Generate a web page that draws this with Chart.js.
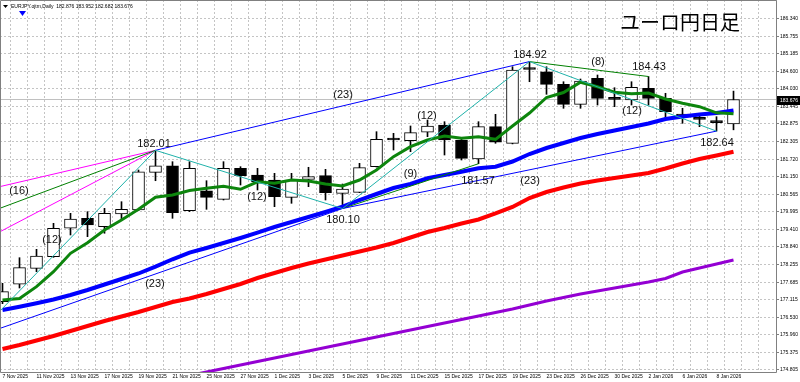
<!DOCTYPE html>
<html>
<head>
<meta charset="utf-8">
<title>EURJPY Daily</title>
<script src="https://cdn.jsdelivr.net/npm/chart.js@4.4.1/dist/chart.umd.min.js"></script>
<style>
  html, body { margin: 0; padding: 0; background: #fff; }
  #wrap { width: 800px; height: 382px; }
</style>
</head>
<body>
<div id="wrap"><canvas id="chart" width="800" height="382"></canvas></div>
<script>
// EURJPY daily, 7 Nov 2025 - 9 Jan 2026
const dates = ['7 Nov 2025','10 Nov 2025','11 Nov 2025','12 Nov 2025','13 Nov 2025','14 Nov 2025',
  '17 Nov 2025','18 Nov 2025','19 Nov 2025','20 Nov 2025','21 Nov 2025','24 Nov 2025','25 Nov 2025',
  '26 Nov 2025','27 Nov 2025','28 Nov 2025','1 Dec 2025','2 Dec 2025','3 Dec 2025','4 Dec 2025',
  '5 Dec 2025','8 Dec 2025','9 Dec 2025','10 Dec 2025','11 Dec 2025','12 Dec 2025','15 Dec 2025',
  '16 Dec 2025','17 Dec 2025','18 Dec 2025','19 Dec 2025','22 Dec 2025','23 Dec 2025','24 Dec 2025',
  '26 Dec 2025','29 Dec 2025','30 Dec 2025','31 Dec 2025','2 Jan 2026','5 Jan 2026','6 Jan 2026',
  '7 Jan 2026','8 Jan 2026','9 Jan 2026'];

const opens = [177.045,177.616,178.140,178.521,179.453,179.780,179.505,179.921,180.052,181.289,
  181.505,180.029,180.685,180.403,181.420,181.201,181.036,180.469,181.059,181.178,
  180.600,180.633,181.473,182.360,182.325,182.601,182.840,182.348,181.725,182.785,
  182.240,184.667,184.588,184.175,183.519,184.372,183.690,183.660,184.044,183.716,
  183.191,183.080,182.971,182.876];
const highs = [177.648,178.488,178.763,179.616,179.944,179.997,180.108,180.325,181.364,182.010,
  181.637,181.637,181.013,181.637,181.473,181.420,181.256,181.256,181.453,181.387,
  180.905,181.584,182.621,182.568,182.808,183.004,182.949,182.404,182.949,183.191,
  184.752,184.920,184.752,184.260,184.349,184.480,184.064,184.260,184.430,183.880,
  183.388,183.224,183.113,183.952];
const lows = [176.980,177.494,178.029,178.500,179.233,179.177,179.289,179.724,180.029,181.013,
  179.780,180.000,180.075,180.380,180.872,180.709,180.161,180.272,180.817,180.380,
  180.100,180.620,181.460,182.020,181.965,182.457,181.856,181.692,181.570,182.240,
  182.220,184.260,183.847,183.388,183.388,183.496,183.441,183.496,183.496,183.060,
  182.896,182.785,182.640,182.682];
const closes = [177.373,178.160,178.544,179.453,179.757,179.561,179.944,180.075,181.308,181.505,
  179.964,181.420,180.469,181.420,181.178,180.980,180.489,181.036,181.145,180.620,
  180.741,181.440,182.371,182.348,182.588,182.808,182.348,181.748,182.785,182.273,
  184.644,184.660,184.175,183.519,184.283,183.716,183.683,184.077,183.716,183.277,
  183.135,183.027,182.916,183.676];

// moving averages
const maGreen = [177.101,177.150,177.537,178.029,178.632,178.980,179.397,179.724,180.075,180.469,
  180.544,180.692,180.764,180.830,180.731,180.975,180.930,181.036,181.004,180.905,
  180.840,181.036,181.364,181.801,182.129,182.348,182.480,182.404,182.457,182.371,
  182.808,183.234,183.742,183.906,184.244,184.096,183.916,183.864,183.890,183.693,
  183.552,183.441,183.240,183.211];
const maBlue = [176.773,176.881,176.993,177.117,177.265,177.429,177.609,177.790,177.970,178.193,
  178.436,178.652,178.806,178.970,179.134,179.308,179.495,179.659,179.823,179.987,
  180.161,180.380,180.577,180.774,180.905,181.092,181.200,181.308,181.420,181.473,
  181.643,181.889,182.086,182.250,182.414,182.545,182.660,182.775,182.889,183.037,
  183.119,183.185,183.234,183.316];
const maRed = [175.494,175.625,175.772,175.920,176.084,176.248,176.412,176.560,176.707,176.871,
  177.035,177.150,177.298,177.462,177.626,177.822,177.986,178.150,178.298,178.429,
  178.560,178.691,178.823,178.970,179.151,179.331,179.462,179.610,179.741,179.938,
  180.151,180.446,180.643,180.790,180.922,181.020,181.102,181.184,181.266,181.414,
  181.578,181.725,181.840,181.965];
const maPurple = [null,null,null,null,null,null,null,null,null,null,
  174.510,174.625,174.739,174.854,174.969,175.083,175.198,175.313,175.428,175.543,
  175.657,175.772,175.887,176.002,176.117,176.231,176.346,176.461,176.576,176.691,
  176.806,176.937,177.068,177.183,177.298,177.396,177.494,177.593,177.691,177.806,
  178.019,178.150,178.281,178.413];

// price scale labels as MT4 placed them
const priceTicks = [186.340,185.755,185.185,184.600,184.030,183.445,182.875,182.305,181.720,181.150,
  180.565,179.995,179.410,178.840,178.255,177.685,177.115,176.530,175.960,175.375,174.805];

// pivot bars for the trend lines
const hiA = 9, loA = 20, hiB = 31, loB = 42, loC = 28, hiC = 38;
// where lines enter from the left edge
const edgeTeal = 176.74, edgeBlue = 176.17, edgeGreen = 180.11, edgePink1 = 180.82, edgePink2 = 179.34;

// text notes: [text, bar, price]
const notes = [
  [highs[hiA].toFixed(2), 8.91, 182.234],
  ['(16)', 0.97, 180.676],
  ['(12)', 2.91, 179.069],
  ['(23)', 8.97, 177.642],
  ['(23)', 20.03, 183.824],
  ['(12)', 14.97, 180.479],
  [lows[loA].toFixed(2), 20.03, 179.741],
  ['(9)', 24.0, 181.233],
  ['(12)', 24.97, 183.152],
  [lows[loC].toFixed(2), 27.97, 181.004],
  ['(23)', 31.03, 181.020],
  [highs[hiB].toFixed(2), 31.03, 185.153],
  ['(8)', 35.03, 184.923],
  [highs[hiC].toFixed(2), 38.03, 184.743],
  ['(12)', 37.03, 183.316],
  [lows[loB].toFixed(2), 42.03, 182.266]
];

const xMin = -0.147, xMax = 45.5;
const yMin = 174.739, yMax = 186.940;
const last = dates.length - 1;

const toXY = arr => arr.map((v, i) => ({x: i, y: v}));

function seg(color, p1, p2) {
  return {
    type: 'line', data: [{x: p1[0], y: p1[1]}, {x: p2[0], y: p2[1]}],
    borderColor: color, borderWidth: 1, pointRadius: 0, tension: 0, order: 0
  };
}

function maLine(arr, color, w) {
  return { type: 'line', data: toXY(arr), borderColor: color, borderWidth: w,
    pointRadius: 0, tension: 0, order: 1 };
}

const datasets = [
  // trend lines
  seg('#20b2aa', [xMin, edgeTeal], [hiA, highs[hiA]]),
  seg('#20b2aa', [hiA, highs[hiA]], [loA, lows[loA]]),
  seg('#20b2aa', [loA, lows[loA]], [hiB, highs[hiB]]),
  seg('#20b2aa', [hiB, highs[hiB]], [loB, lows[loB]]),
  seg('#0000ff', [hiA, highs[hiA]], [hiB, highs[hiB]]),
  seg('#0000ff', [xMin, edgeBlue], [loA, lows[loA]]),
  seg('#0000ff', [loA, lows[loA]], [loB, lows[loB]]),
  seg('#008000', [xMin, edgeGreen], [hiA, highs[hiA]]),
  seg('#008000', [loA, lows[loA]], [loC, lows[loC]]),
  seg('#008000', [hiB, highs[hiB]], [hiC, highs[hiC]]),
  seg('#ff00ff', [xMin, edgePink1], [hiA, highs[hiA]]),
  seg('#ff00ff', [xMin, edgePink2], [hiA, highs[hiA]]),
  // moving averages
  maLine(maGreen, '#0d850d', 3),
  maLine(maBlue, '#0000ff', 4),
  maLine(maRed, '#ff0000', 4),
  maLine(maPurple, '#9400d3', 3),
  // candles: bodies then wicks
  {
    type: 'bar', data: opens.map((o, i) => ({x: i, y: [o, closes[i]]})),
    backgroundColor: opens.map((o, i) => closes[i] >= o ? '#ffffff' : '#000000'),
    borderColor: '#000', borderWidth: 1, borderSkipped: false,
    barThickness: 12, grouped: false, minBarLength: 2, order: 2
  },
  {
    type: 'bar', data: lows.map((l, i) => ({x: i, y: [l, highs[i]]})),
    backgroundColor: '#000', borderWidth: 0, barThickness: 1, grouped: false, order: 3
  },
  // bid line
  {
    type: 'line', data: [{x: xMin, y: closes[last]}, {x: xMax, y: closes[last]}],
    borderColor: '#c0c0c0', borderWidth: 1, pointRadius: 0, order: 10
  }
];

const decor = {
  id: 'decor',
  afterDatasetsDraw(chart) {
    const {ctx, scales: {x, y}} = chart;
    ctx.save();
    ctx.font = '11px "Liberation Sans", Arial, sans-serif';
    ctx.fillStyle = '#111';
    ctx.textAlign = 'center';
    ctx.textBaseline = 'middle';
    notes.forEach(n => ctx.fillText(n[0], x.getPixelForValue(n[1]), y.getPixelForValue(n[2])));
    ctx.restore();
  },
  afterDraw(chart) {
    const {ctx, chartArea: a, scales: {y}} = chart;
    ctx.save();
    // frame
    ctx.strokeStyle = '#808080';
    ctx.lineWidth = 1;
    ctx.beginPath();
    ctx.moveTo(0.5, a.top + 0.5);
    ctx.lineTo(a.right + 0.5, a.top + 0.5);
    ctx.lineTo(a.right + 0.5, a.bottom + 0.5);
    ctx.lineTo(0.5, a.bottom + 0.5);
    ctx.closePath();
    ctx.stroke();

    // last price box
    const py = Math.round(y.getPixelForValue(closes[last]));
    ctx.fillStyle = '#000';
    ctx.fillRect(a.right + 1, py - 4, 800 - a.right - 1, 9);
    ctx.fillStyle = '#fff';
    ctx.font = '5px "Liberation Sans", Arial, sans-serif';
    ctx.textBaseline = 'middle';
    ctx.fillText(closes[last].toFixed(3), a.right + 4, py + 0.5);

    // header
    ctx.fillStyle = '#000';
    ctx.beginPath();
    ctx.moveTo(3, 5); ctx.lineTo(8, 5); ctx.lineTo(5.5, 8); ctx.closePath();
    ctx.fill();
    ctx.font = '5px "Liberation Sans", Arial, sans-serif';
    ctx.textAlign = 'left';
    ctx.fillText('EURJPY.ojtm,Daily  ' + [opens[last], highs[last], lows[last], closes[last]]
      .map(v => v.toFixed(3)).join(' '), 11, 6.5);
    ctx.fillStyle = '#0000ff';
    ctx.beginPath();
    ctx.moveTo(19, 11); ctx.lineTo(26, 11); ctx.lineTo(22.5, 16); ctx.closePath();
    ctx.fill();

    // title
    ctx.fillStyle = '#000';
    ctx.font = '20px "Noto Sans CJK JP", sans-serif';
    ctx.textBaseline = 'middle';
    ctx.fillText('ユーロ円日足', 620, 22);
    ctx.restore();
  }
};

new Chart(document.getElementById('chart'), {
  type: 'line',
  data: { datasets: datasets },
  options: {
    responsive: false,
    animation: false,
    events: [],
    layout: { padding: 0 },
    plugins: { legend: { display: false }, tooltip: { enabled: false } },
    scales: {
      x: {
        type: 'linear', min: xMin, max: xMax, offset: false,
        afterBuildTicks: s => { s.ticks = dates.concat(['', '']).map((d, i) => ({value: i})); },
        afterFit: s => { s.height = 10; s.paddingLeft = 0; s.paddingRight = 0; },
        grid: { color: '#c4c4c4', drawTicks: false, borderDash: [2, 2] },
        border: { display: false, dash: [2, 2] },
        ticks: {
          autoSkip: false, maxRotation: 0, align: 'start', padding: 2, color: '#000',
          font: { size: 5, family: '"Liberation Sans", Arial, sans-serif' },
          callback: v => (v % 2 === 0 && dates[v]) ? dates[v] : ''
        }
      },
      y: {
        type: 'linear', position: 'right', min: yMin, max: yMax,
        afterBuildTicks: s => { s.ticks = priceTicks.map(v => ({value: v})); },
        afterFit: s => { s.width = 24; s.paddingTop = 0; s.paddingBottom = 0; },
        grid: { color: '#c4c4c4', tickColor: '#808080', tickLength: 3, tickBorderDash: [], borderDash: [2, 2] },
        border: { display: false, dash: [2, 2] },
        ticks: {
          autoSkip: false, padding: 1, color: '#000',
          font: { size: 5, family: '"Liberation Sans", Arial, sans-serif' },
          callback: v => v.toFixed(3)
        }
      }
    }
  },
  plugins: [decor]
});
</script>
</body>
</html>
